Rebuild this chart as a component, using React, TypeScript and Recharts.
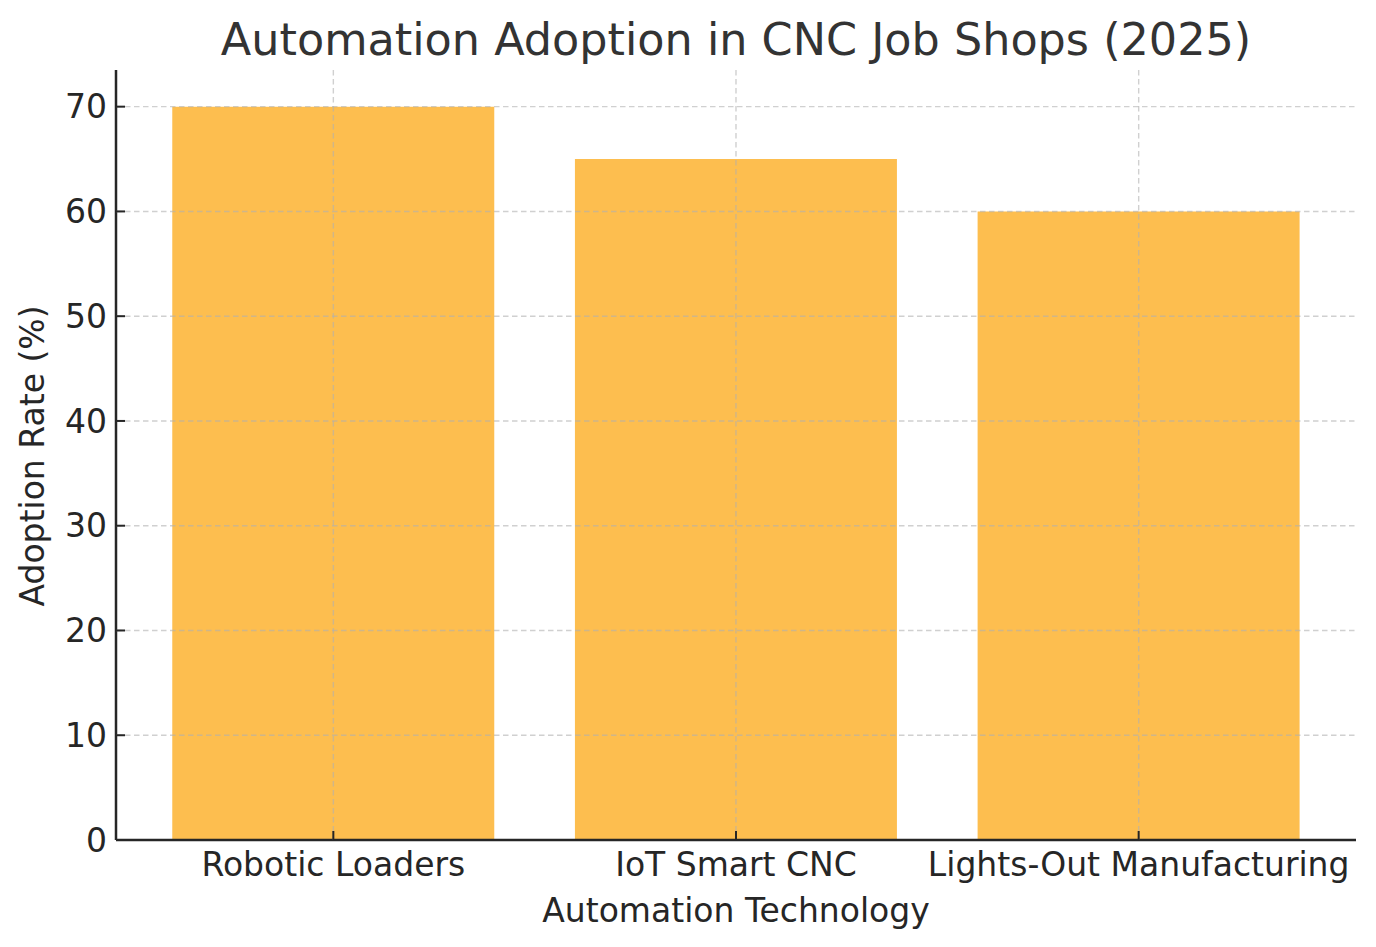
import {
  BarChart,
  Bar,
  XAxis,
  YAxis,
  CartesianGrid,
} from "recharts";

const technologies = ["Robotic Loaders", "IoT Smart CNC", "Lights-Out Manufacturing"];
const adoptionRates = [70, 65, 60];
const yTicks = [0, 10, 20, 30, 40, 50, 60, 70];

const data = technologies.map((name, i) => ({ name, rate: adoptionRates[i] }));

const FONT = "'DejaVu Sans', sans-serif";
const INK = "#262626";
const TICK_LEN = 9;

// ticks point inward, like the matplotlib style of the original
const XTick = ({ x, y, payload }: any) => (
  <g>
    <line x1={x} x2={x} y1={y - 13} y2={y - 13 - TICK_LEN} stroke={INK} strokeWidth={2} />
    <text x={x} y={y} dy="0.71em" textAnchor="middle" fill={INK} fontSize={33} fontFamily={FONT}>
      {payload.value}
    </text>
  </g>
);

const YTick = ({ x, y, payload }: any) => (
  <g>
    <line x1={x + 9} x2={x + 9 + TICK_LEN} y1={y} y2={y} stroke={INK} strokeWidth={2} />
    <text x={x} y={y} dy="0.355em" textAnchor="end" fill={INK} fontSize={33} fontFamily={FONT}>
      {payload.value}
    </text>
  </g>
);

const App = () => {
  return (
    <div style={{ position: "absolute", left: 0, top: 0, width: 1376, height: 947 }}>
      <BarChart
        width={1376}
        height={947}
        data={data}
        margin={{ top: 70, right: 20, bottom: 0, left: 0 }}
        barCategoryGap="10%"
        style={{ fontFamily: FONT }}
      >
        <XAxis
          dataKey="name"
          height={107}
          padding={{ left: 16, right: 16 }}
          tickSize={0}
          tickMargin={13}
          tick={<XTick />}
          tickLine={false}
          axisLine={{ stroke: INK, strokeWidth: 2.5 }}
          interval={0}
        />
        <YAxis
          width={116}
          domain={[0, 73.5]}
          ticks={yTicks}
          allowDataOverflow
          tickSize={0}
          tickMargin={9}
          tick={<YTick />}
          tickLine={false}
          axisLine={{ stroke: INK, strokeWidth: 2.5 }}
        />
        <Bar dataKey="rate" fill="#FDBE4F" isAnimationActive={false} />
        <CartesianGrid
          zIndex={500}
          stroke="#b0b0b0"
          strokeOpacity={0.6}
          strokeWidth={1.4}
          strokeDasharray="5.5 3.5"
          syncWithTicks
          horizontalValues={yTicks.filter((t) => t > 0)}
          verticalValues={technologies}
        />
        <text
          x={736}
          y={55}
          textAnchor="middle"
          fontSize={44.5}
          fontFamily={FONT}
          fill="#333333"
        >
          Automation Adoption in CNC Job Shops (2025)
        </text>
        <text
          x={736}
          y={922}
          textAnchor="middle"
          fontSize={33}
          fontFamily={FONT}
          fill={INK}
        >
          Automation Technology
        </text>
        <text
          x={44}
          y={456}
          textAnchor="middle"
          fontSize={33}
          fontFamily={FONT}
          fill={INK}
          transform="rotate(-90, 44, 456)"
        >
          Adoption Rate (%)
        </text>
      </BarChart>
    </div>
  );
};

export default App;
